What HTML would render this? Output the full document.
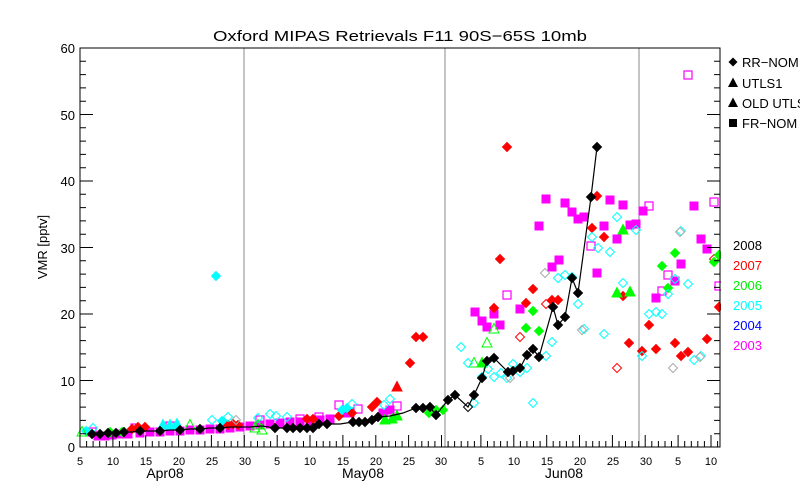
<!DOCTYPE html>
<html><head><meta charset="utf-8"><style>
html,body{margin:0;padding:0;background:#fff;}
svg{display:block;font-family:"Liberation Sans",sans-serif;}
</style></head><body>
<svg width="800" height="500" viewBox="0 0 800 500" xmlns="http://www.w3.org/2000/svg">
<defs>
<polygon id="df" points="0,-4.5 4.5,0 0,4.5 -4.5,0"/>
<polygon id="do" points="0,-4.5 4.5,0 0,4.5 -4.5,0" fill="none" stroke-width="1"/>
<rect id="sf" x="-4" y="-4" width="8" height="8"/>
<rect id="so" x="-4" y="-4" width="8" height="8" fill="none" stroke-width="1.2"/>
<polygon id="tf" points="0,-5.5 5,4 -5,4"/>
<polygon id="to" points="0,-5.5 5,4 -5,4" fill="none" stroke-width="1"/>
</defs>
<rect width="800" height="500" fill="#fff"/>
<text x="400" y="41" font-size="15" text-anchor="middle" textLength="374" lengthAdjust="spacingAndGlyphs">Oxford MIPAS Retrievals F11 90S&#8722;65S 10mb</text>

<!-- month lines -->
<g stroke="#888" stroke-width="1">
<line x1="244" y1="48" x2="244" y2="447"/>
<line x1="445" y1="48" x2="445" y2="447"/>
<line x1="639" y1="48" x2="639" y2="447"/>
</g>

<!-- early data -->
<g fill="#ff00ff" stroke="#ff00ff">
<use href="#sf" x="98" y="436"/><use href="#sf" x="105" y="436"/><use href="#sf" x="112" y="435"/><use href="#sf" x="120" y="434"/><use href="#sf" x="128" y="434"/><use href="#sf" x="140" y="433"/><use href="#sf" x="150" y="432"/><use href="#sf" x="160" y="432"/><use href="#sf" x="170" y="431"/><use href="#sf" x="180" y="431"/><use href="#sf" x="190" y="430"/><use href="#sf" x="200" y="430"/><use href="#sf" x="210" y="429"/><use href="#sf" x="220" y="429"/><use href="#sf" x="230" y="428"/><use href="#sf" x="240" y="427"/><use href="#sf" x="250" y="426"/><use href="#sf" x="260" y="425"/><use href="#sf" x="270" y="424"/><use href="#sf" x="280" y="423"/><use href="#sf" x="290" y="422"/><use href="#sf" x="300" y="422"/><use href="#sf" x="310" y="421"/><use href="#sf" x="320" y="420"/><use href="#sf" x="330" y="419"/><use href="#sf" x="343" y="413"/><use href="#sf" x="350" y="413"/><use href="#sf" x="383" y="413"/><use href="#sf" x="390" y="410"/>
<use href="#so" x="92" y="432"/><use href="#so" x="135" y="428"/><use href="#so" x="170" y="426"/><use href="#so" x="300" y="419"/><use href="#so" x="319" y="417"/><use href="#so" x="339" y="405"/><use href="#so" x="358" y="409"/><use href="#so" x="397" y="406"/><use href="#so" x="260" y="420"/>
</g>
<g fill="#ff0000" stroke="#ff0000">
<use href="#df" x="132" y="429"/><use href="#df" x="138" y="427"/><use href="#df" x="145" y="427"/><use href="#df" x="228" y="425"/><use href="#df" x="233" y="424"/><use href="#df" x="238" y="425"/><use href="#df" x="307" y="419"/><use href="#df" x="313" y="419"/><use href="#df" x="339" y="416"/><use href="#df" x="352" y="413"/><use href="#df" x="372" y="407"/><use href="#df" x="377" y="402"/><use href="#df" x="410" y="363"/><use href="#df" x="416" y="337"/><use href="#df" x="423" y="337"/>
<use href="#tf" x="397" y="387"/>
</g>
<g fill="#00ffff" stroke="#00ffff">
<use href="#df" x="86" y="431"/><use href="#df" x="222" y="421"/><use href="#df" x="216" y="276"/><use href="#df" x="342" y="410"/><use href="#df" x="347" y="408"/>
<use href="#tf" x="163" y="425"/><use href="#tf" x="170" y="425"/><use href="#tf" x="177" y="424"/>
<use href="#do" x="93" y="428"/><use href="#do" x="212" y="420"/><use href="#do" x="228" y="417"/><use href="#do" x="258" y="418"/><use href="#do" x="270" y="414"/><use href="#do" x="276" y="416"/><use href="#do" x="287" y="417"/><use href="#do" x="352" y="404"/><use href="#do" x="384" y="405"/><use href="#do" x="390" y="399"/>
</g>
<g fill="#00ff00" stroke="#00ff00">
<use href="#to" x="82" y="432"/><use href="#to" x="190" y="425"/><use href="#to" x="255" y="428"/><use href="#to" x="262" y="430"/><use href="#to" x="258" y="425"/>
<use href="#df" x="110" y="432"/><use href="#df" x="122" y="432"/>
<use href="#tf" x="385" y="420"/><use href="#tf" x="392" y="419"/><use href="#tf" x="397" y="416"/>
<use href="#df" x="429" y="413"/><use href="#df" x="436" y="410"/><use href="#df" x="443" y="410"/>
</g>

<!-- June/July data -->
<g fill="#ff00ff" stroke="#ff00ff">
<use href="#sf" x="475" y="312"/><use href="#sf" x="494" y="314"/><use href="#sf" x="482" y="321"/><use href="#sf" x="487" y="327"/><use href="#sf" x="500" y="325"/><use href="#sf" x="520" y="309"/>
<use href="#sf" x="546" y="199"/><use href="#sf" x="565" y="203"/><use href="#sf" x="572" y="212"/><use href="#sf" x="578" y="219"/><use href="#sf" x="584" y="217"/><use href="#sf" x="539" y="226"/><use href="#sf" x="559" y="260"/><use href="#sf" x="552" y="267"/><use href="#sf" x="597" y="273"/>
<use href="#sf" x="610" y="200"/><use href="#sf" x="623" y="205"/><use href="#sf" x="643" y="211"/><use href="#sf" x="630" y="225"/><use href="#sf" x="636" y="224"/><use href="#sf" x="604" y="226"/><use href="#sf" x="617" y="239"/><use href="#sf" x="694" y="206"/><use href="#sf" x="701" y="239"/><use href="#sf" x="707" y="249"/><use href="#sf" x="681" y="264"/><use href="#sf" x="675" y="281"/><use href="#sf" x="656" y="298"/>
<use href="#so" x="507" y="295"/><use href="#so" x="591" y="246"/><use href="#so" x="649" y="206"/><use href="#so" x="714" y="202"/><use href="#so" x="668" y="275"/><use href="#so" x="662" y="291"/><use href="#so" x="719" y="286"/><use href="#so" x="688" y="75"/>
</g>
<g fill="#ff0000" stroke="#ff0000">
<use href="#df" x="507" y="147"/><use href="#df" x="597" y="196"/><use href="#df" x="500" y="259"/><use href="#df" x="592" y="228"/><use href="#df" x="604" y="237"/><use href="#df" x="533" y="289"/><use href="#df" x="552" y="300"/><use href="#df" x="558" y="300"/><use href="#df" x="623" y="296"/><use href="#df" x="494" y="308"/><use href="#df" x="526" y="303"/><use href="#df" x="629" y="343"/>
<use href="#df" x="649" y="325"/><use href="#df" x="642" y="351"/><use href="#df" x="656" y="349"/><use href="#df" x="675" y="343"/><use href="#df" x="681" y="356"/><use href="#df" x="688" y="352"/><use href="#df" x="707" y="339"/><use href="#df" x="719" y="307"/>
<use href="#do" x="520" y="337"/><use href="#do" x="546" y="304"/><use href="#do" x="617" y="368"/><use href="#do" x="714" y="259"/>
</g>
<g fill="#00ff00" stroke="#00ff00">
<use href="#df" x="533" y="311"/><use href="#df" x="526" y="328"/><use href="#df" x="539" y="331"/><use href="#df" x="675" y="253"/><use href="#df" x="662" y="266"/><use href="#df" x="668" y="288"/><use href="#df" x="714" y="262"/><use href="#df" x="719" y="255"/>
<use href="#tf" x="482" y="363"/><use href="#tf" x="623" y="230"/><use href="#tf" x="617" y="293"/><use href="#tf" x="630" y="292"/>
<use href="#to" x="494" y="329"/><use href="#to" x="487" y="343"/><use href="#to" x="474" y="363"/>
</g>
<g fill="#00ffff" stroke="#00ffff">
<use href="#do" x="461" y="347"/><use href="#do" x="468" y="363"/><use href="#do" x="488" y="369"/><use href="#do" x="482" y="377"/><use href="#do" x="494" y="377"/><use href="#do" x="501" y="373"/><use href="#do" x="507" y="378"/><use href="#do" x="513" y="364"/><use href="#do" x="520" y="372"/><use href="#do" x="527" y="368"/><use href="#do" x="546" y="356"/><use href="#do" x="552" y="342"/><use href="#do" x="578" y="304"/><use href="#do" x="584" y="329"/><use href="#do" x="604" y="334"/><use href="#do" x="533" y="403"/><use href="#do" x="474" y="403"/>
<use href="#do" x="617" y="217"/><use href="#do" x="592" y="237"/><use href="#do" x="598" y="248"/><use href="#do" x="610" y="252"/><use href="#do" x="636" y="230"/><use href="#do" x="558" y="278"/><use href="#do" x="565" y="275"/><use href="#do" x="572" y="277"/><use href="#do" x="623" y="283"/>
<use href="#do" x="681" y="231"/><use href="#do" x="688" y="284"/><use href="#do" x="675" y="279"/><use href="#do" x="668" y="294"/><use href="#do" x="649" y="314"/><use href="#do" x="656" y="312"/><use href="#do" x="662" y="314"/><use href="#do" x="642" y="356"/><use href="#do" x="694" y="360"/><use href="#do" x="701" y="356"/>
</g>
<g fill="none" stroke="#aaa">
<use href="#do" x="545" y="273"/><use href="#do" x="582" y="330"/><use href="#do" x="673" y="368"/><use href="#do" x="680" y="232"/><use href="#do" x="700" y="357"/><use href="#do" x="510" y="378"/><use href="#do" x="236" y="420"/>
</g>

<!-- 2008 black line -->
<polyline fill="none" stroke="#000" stroke-width="1.2" points="92,434 100,434 108,433 116,433 124,432 132,432 140,431 150,431 160,431 170,430 180,430 190,429 200,429 210,428 220,428 230,427 240,427 250,427 262,426 275,428 287,428 293,428 300,428 307,428 313,428 319,424 327,424 340,424 353,422 359,422 365,422 372,420 378,417 390,416 403,413 416,408 423,408 430,407 436,415 448,400 455,395 468,407 474,395 482,378 487,361 494,358 508,372 513,371 520,368 527,355 533,349 539,357 553,307 558,325 565,317 572,278 578,293 591,197 597,147"/>
<g fill="#000" stroke="#000">
<use href="#df" x="92" y="434"/><use href="#df" x="100" y="434"/><use href="#df" x="108" y="433"/><use href="#df" x="116" y="433"/><use href="#df" x="124" y="432"/><use href="#df" x="140" y="431"/><use href="#df" x="160" y="431"/><use href="#df" x="180" y="430"/><use href="#df" x="200" y="429"/><use href="#df" x="220" y="428"/><use href="#df" x="275" y="428"/><use href="#df" x="287" y="428"/><use href="#df" x="293" y="428"/><use href="#df" x="300" y="428"/><use href="#df" x="307" y="428"/><use href="#df" x="313" y="428"/><use href="#df" x="319" y="424"/><use href="#df" x="327" y="424"/><use href="#df" x="353" y="422"/><use href="#df" x="359" y="422"/><use href="#df" x="365" y="422"/><use href="#df" x="372" y="420"/><use href="#df" x="378" y="417"/><use href="#df" x="416" y="408"/><use href="#df" x="423" y="408"/><use href="#df" x="430" y="407"/><use href="#df" x="436" y="415"/><use href="#df" x="448" y="400"/><use href="#df" x="455" y="395"/><use href="#df" x="474" y="395"/><use href="#df" x="482" y="378"/><use href="#df" x="487" y="361"/><use href="#df" x="494" y="358"/><use href="#df" x="508" y="372"/><use href="#df" x="513" y="371"/><use href="#df" x="520" y="368"/><use href="#df" x="527" y="355"/><use href="#df" x="533" y="349"/><use href="#df" x="539" y="357"/><use href="#df" x="553" y="307"/><use href="#df" x="558" y="325"/><use href="#df" x="565" y="317"/><use href="#df" x="572" y="278"/><use href="#df" x="578" y="293"/><use href="#df" x="591" y="197"/><use href="#df" x="597" y="147"/>
</g>
<use href="#do" x="468" y="407" fill="#fff" stroke="#000"/>

<!-- cover outside plot on right -->
<rect x="721" y="0" width="79" height="500" fill="#fff"/>

<!-- axes -->
<rect x="80" y="48" width="640" height="399" fill="none" stroke="#000" stroke-width="1"/>
<g stroke="#000" stroke-width="1" id="ticks">
<path d="M80,447h13M80,380.5h13M80,314h13M80,247.5h13M80,181h13M80,114.5h13M80,48h13M720,447h-13M720,380.5h-13M720,314h-13M720,247.5h-13M720,181h-13M720,114.5h-13M720,48h-13"/>
<path d="M80,433.7h6M80,420.4h6M80,407.1h6M80,393.8h6M80,367.2h6M80,353.9h6M80,340.6h6M80,327.3h6M80,300.7h6M80,287.4h6M80,274.1h6M80,260.8h6M80,234.2h6M80,220.9h6M80,207.6h6M80,194.3h6M80,167.7h6M80,154.4h6M80,141.1h6M80,127.8h6M80,101.2h6M80,87.9h6M80,74.6h6M80,61.3h6
M720,433.7h-6M720,420.4h-6M720,407.1h-6M720,393.8h-6M720,367.2h-6M720,353.9h-6M720,340.6h-6M720,327.3h-6M720,300.7h-6M720,287.4h-6M720,274.1h-6M720,260.8h-6M720,234.2h-6M720,220.9h-6M720,207.6h-6M720,194.3h-6M720,167.7h-6M720,154.4h-6M720,141.1h-6M720,127.8h-6M720,101.2h-6M720,87.9h-6M720,74.6h-6M720,61.3h-6"/>
</g>
<g stroke="#000" stroke-width="1">
<path d="
M86.6,447v-6M93.1,447v-6M99.7,447v-6M106.3,447v-6M112.9,447v-12M119.4,447v-6M126,447v-6M132.6,447v-6M139.1,447v-6M145.7,447v-12M152.3,447v-6M158.9,447v-6M165.4,447v-6M172,447v-6M178.6,447v-12M185.2,447v-6M191.7,447v-6M198.3,447v-6M204.9,447v-6M211.4,447v-12M218,447v-6M224.6,447v-6M231.2,447v-6M237.7,447v-6M244.3,447v-12M250.9,447v-6M257.5,447v-6M264,447v-6M270.6,447v-6M277.2,447v-12M283.7,447v-6M290.3,447v-6M296.9,447v-6M303.5,447v-6M310,447v-12M316.6,447v-6M323.2,447v-6M329.8,447v-6M336.3,447v-6M342.9,447v-12M349.5,447v-6M356,447v-6M362.6,447v-6M369.2,447v-6M375.8,447v-12M382.3,447v-6M388.9,447v-6M395.5,447v-6M402.1,447v-6M408.6,447v-12M415.2,447v-6M421.8,447v-6M428.3,447v-6M434.9,447v-6M441.5,447v-12M448.1,447v-6M454.6,447v-6M461.2,447v-6M467.8,447v-6M474.4,447v-6M480.9,447v-12M487.5,447v-6M494.1,447v-6M500.6,447v-6M507.2,447v-6M513.8,447v-12M520.4,447v-6M526.9,447v-6M533.5,447v-6M540.1,447v-6M546.7,447v-12M553.2,447v-6M559.8,447v-6M566.4,447v-6M572.9,447v-6M579.5,447v-12M586.1,447v-6M592.7,447v-6M599.2,447v-6M605.8,447v-6M612.4,447v-12M619,447v-6M625.5,447v-6M632.1,447v-6M638.7,447v-6M645.2,447v-12M651.8,447v-6M658.4,447v-6M665,447v-6M671.5,447v-6M678.1,447v-12M684.7,447v-6M691.3,447v-6M697.8,447v-6M704.4,447v-6M711,447v-12M717.6,447v-6"/>
<path transform="translate(0,-399) scale(1,-1) translate(0,-495)" d="
M86.6,447v-6M93.1,447v-6M99.7,447v-6M106.3,447v-6M112.9,447v-12M119.4,447v-6M126,447v-6M132.6,447v-6M139.1,447v-6M145.7,447v-12M152.3,447v-6M158.9,447v-6M165.4,447v-6M172,447v-6M178.6,447v-12M185.2,447v-6M191.7,447v-6M198.3,447v-6M204.9,447v-6M211.4,447v-12M218,447v-6M224.6,447v-6M231.2,447v-6M237.7,447v-6M244.3,447v-12M250.9,447v-6M257.5,447v-6M264,447v-6M270.6,447v-6M277.2,447v-12M283.7,447v-6M290.3,447v-6M296.9,447v-6M303.5,447v-6M310,447v-12M316.6,447v-6M323.2,447v-6M329.8,447v-6M336.3,447v-6M342.9,447v-12M349.5,447v-6M356,447v-6M362.6,447v-6M369.2,447v-6M375.8,447v-12M382.3,447v-6M388.9,447v-6M395.5,447v-6M402.1,447v-6M408.6,447v-12M415.2,447v-6M421.8,447v-6M428.3,447v-6M434.9,447v-6M441.5,447v-12M448.1,447v-6M454.6,447v-6M461.2,447v-6M467.8,447v-6M474.4,447v-6M480.9,447v-12M487.5,447v-6M494.1,447v-6M500.6,447v-6M507.2,447v-6M513.8,447v-12M520.4,447v-6M526.9,447v-6M533.5,447v-6M540.1,447v-6M546.7,447v-12M553.2,447v-6M559.8,447v-6M566.4,447v-6M572.9,447v-6M579.5,447v-12M586.1,447v-6M592.7,447v-6M599.2,447v-6M605.8,447v-6M612.4,447v-12M619,447v-6M625.5,447v-6M632.1,447v-6M638.7,447v-6M645.2,447v-12M651.8,447v-6M658.4,447v-6M665,447v-6M671.5,447v-6M678.1,447v-12M684.7,447v-6M691.3,447v-6M697.8,447v-6M704.4,447v-6M711,447v-12M717.6,447v-6"/>
</g>

<!-- y labels -->
<g font-size="13" text-anchor="end">
<text x="75" y="452">0</text><text x="75" y="386">10</text><text x="75" y="319">20</text><text x="75" y="253">30</text><text x="75" y="186">40</text><text x="75" y="120">50</text><text x="75" y="53">60</text>
</g>
<text transform="translate(47,247) rotate(-90)" font-size="13" text-anchor="middle">VMR [pptv]</text>

<!-- x labels -->
<g font-size="11" text-anchor="middle">
<text x="80" y="465">5</text><text x="113" y="465">10</text><text x="146" y="465">15</text><text x="179" y="465">20</text><text x="212" y="465">25</text><text x="245" y="465">30</text>
<text x="277" y="465">5</text><text x="310" y="465">10</text><text x="343" y="465">15</text><text x="376" y="465">20</text><text x="409" y="465">25</text><text x="441" y="465">30</text>
<text x="481" y="465">5</text><text x="514" y="465">10</text><text x="547" y="465">15</text><text x="580" y="465">20</text><text x="613" y="465">25</text><text x="646" y="465">30</text>
<text x="678" y="465">5</text><text x="711" y="465">10</text>
</g>
<g font-size="14" text-anchor="middle">
<text x="165" y="478">Apr08</text><text x="363" y="478">May08</text><text x="564" y="478">Jun08</text>
</g>

<!-- legend -->
<g fill="#000">
<use href="#df" x="733" y="62"/><use href="#tf" x="733" y="83"/><use href="#tf" x="733" y="103"/><use href="#sf" x="733" y="123"/>
</g>
<g font-size="13">
<text x="742" y="67">RR&#8722;NOM</text><text x="742" y="88">UTLS1</text><text x="742" y="108">OLD UTLS</text><text x="742" y="128">FR&#8722;NOM</text>
</g>
<g font-size="13">
<text x="733" y="250" fill="#000">2008</text>
<text x="733" y="270" fill="#ff0000">2007</text>
<text x="733" y="290" fill="#00ee00">2006</text>
<text x="733" y="310" fill="#00ffff">2005</text>
<text x="733" y="330" fill="#0000ff">2004</text>
<text x="733" y="350" fill="#ff00ff">2003</text>
</g>
</svg>
</body></html>
